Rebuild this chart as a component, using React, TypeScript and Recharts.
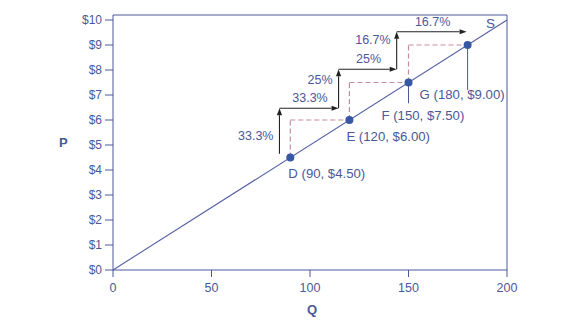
import React from 'react';
import {
  ComposedChart,
  Line,
  XAxis,
  YAxis,
  ReferenceLine,
  ReferenceDot,
} from 'recharts';

// supply curve S
const SUPPLY_Q = [0, 200];
const SUPPLY_P = [0, 10];

// labelled points on S
const POINT_NAMES = ['D', 'E', 'F', 'G'];
const POINT_Q = [90, 120, 150, 180];
const POINT_P = [4.5, 6, 7.5, 9];

// staircase of % change arrows (corners)
const ARROW_Q = [84.5, 114.5, 144, 179.5];
const ARROW_P = [4.65, 6.47, 8.03, 9.53];
const PRICE_CHANGES = ['33.3%', '25%', '16.7%'];
const QUANTITY_CHANGES = ['33.3%', '25%', '16.7%'];

// leader lines under F and G
const LEADER_Q = [150, 180];
const LEADER_FROM = [7.5, 9];
const LEADER_TO = [6.67, 7.2];

const Q_TICKS = [0, 50, 100, 150, 200];
const P_TICKS = [0, 1, 2, 3, 4, 5, 6, 7, 8, 9, 10];
const P_MAX = 10.2;

const BLUE = '#4a5899';
const DOT = '#3557a4';
const PINK = '#c98b9c';
const ARROW = '#222222';
const FONT = '"Liberation Sans", Arial, sans-serif';

// label offsets in px (layout only)
const POINT_LABEL_DX = [-2, -3, -27, -48];
const POINT_LABEL_DY = [20, 21, 37, 54];
const PRICE_LABEL_DY = [5, -9, -11];

const supplyData = SUPPLY_Q.map((q, i) => ({ q, p: SUPPLY_P[i] }));

const arrowShape = (props: any) => {
  const { x1, y1, x2, y2 } = props;
  const len = Math.hypot(x2 - x1, y2 - y1) || 1;
  const ux = (x2 - x1) / len;
  const uy = (y2 - y1) / len;
  const head = 7;
  const half = 2.6;
  const bx = x2 - ux * head;
  const by = y2 - uy * head;
  return (
    <g>
      <line x1={x1} y1={y1} x2={bx} y2={by} stroke={ARROW} strokeWidth={1.1} />
      <polygon
        points={`${x2},${y2} ${bx - uy * half},${by + ux * half} ${bx + uy * half},${by - ux * half}`}
        fill={ARROW}
      />
    </g>
  );
};

const textShape = (text: string, dx: number, dy: number, anchor: string, size: number) => (props: any) => (
  <text
    x={props.cx + dx}
    y={props.cy + dy}
    textAnchor={anchor}
    fontSize={size}
    fill={BLUE}
    fontFamily={FONT}
  >
    {text}
  </text>
);

const App = () => {
  return (
    <div style={{ position: 'absolute', left: 0, top: 0, width: 585, height: 322, background: '#fff' }}>
      <ComposedChart
        width={585}
        height={322}
        data={supplyData}
        margin={{ top: 15, right: 78, bottom: 0, left: 0 }}
        style={{ fontFamily: FONT }}
      >
        <XAxis
          dataKey="q"
          type="number"
          domain={[0, 200]}
          ticks={Q_TICKS}
          height={52}
          tickSize={7}
          tickMargin={6}
          stroke={BLUE}
          tick={{ fill: BLUE, fontSize: 12.5 }}
          label={{ value: 'Q', position: 'insideBottom', offset: 8, dx: 2, fill: BLUE, fontSize: 13, fontWeight: 'bold' }}
        />
        <YAxis
          type="number"
          domain={[0, P_MAX]}
          ticks={P_TICKS}
          width={113}
          tickSize={8}
          tickMargin={3}
          stroke={BLUE}
          tick={{ fill: BLUE, fontSize: 12 }}
          tickFormatter={(v) => `$${v}`}
          label={{ value: 'P', position: 'insideLeft', offset: 59, fill: BLUE, fontSize: 13, fontWeight: 'bold' }}
        />
        {/* frame */}
        <ReferenceLine y={P_MAX} stroke={BLUE} ifOverflow="visible" />
        <ReferenceLine x={200} stroke={BLUE} ifOverflow="visible" />

        <Line
          dataKey="p"
          stroke="#5560a5"
          strokeWidth={1.1}
          dot={false}
          isAnimationActive={false}
        />

        {/* dashed steps between points */}
        {POINT_Q.slice(0, -1).map((q, i) => (
          <ReferenceLine
            key={`dv${i}`}
            segment={[{ x: q, y: POINT_P[i] }, { x: q, y: POINT_P[i + 1] }]}
            stroke={PINK}
            strokeWidth={1.2}
            strokeDasharray="5 3"
            ifOverflow="visible"
          />
        ))}
        {POINT_Q.slice(0, -1).map((q, i) => (
          <ReferenceLine
            key={`dh${i}`}
            segment={[{ x: q, y: POINT_P[i + 1] }, { x: POINT_Q[i + 1], y: POINT_P[i + 1] }]}
            stroke={PINK}
            strokeWidth={1.2}
            strokeDasharray="5 3"
            ifOverflow="visible"
          />
        ))}

        {/* leader lines */}
        {LEADER_Q.map((q, i) => (
          <ReferenceLine
            key={`ld${i}`}
            segment={[{ x: q, y: LEADER_FROM[i] }, { x: q, y: LEADER_TO[i] }]}
            stroke={BLUE}
            strokeWidth={1}
            ifOverflow="visible"
          />
        ))}

        {/* percent change arrows */}
        {PRICE_CHANGES.map((_, i) => (
          <ReferenceLine
            key={`av${i}`}
            segment={[{ x: ARROW_Q[i], y: ARROW_P[i] }, { x: ARROW_Q[i], y: ARROW_P[i + 1] }]}
            shape={arrowShape}
            ifOverflow="visible"
          />
        ))}
        {QUANTITY_CHANGES.map((_, i) => (
          <ReferenceLine
            key={`ah${i}`}
            segment={[{ x: ARROW_Q[i], y: ARROW_P[i + 1] }, { x: ARROW_Q[i + 1], y: ARROW_P[i + 1] }]}
            shape={arrowShape}
            ifOverflow="visible"
          />
        ))}

        {/* percent labels */}
        {PRICE_CHANGES.map((t, i) => (
          <ReferenceDot
            key={`pl${i}`}
            x={ARROW_Q[i]}
            y={(ARROW_P[i] + ARROW_P[i + 1]) / 2}
            r={0}
            ifOverflow="visible"
            shape={textShape(t, -6, PRICE_LABEL_DY[i] + 4, 'end', 12.5)}
          />
        ))}
        {QUANTITY_CHANGES.map((t, i) => (
          <ReferenceDot
            key={`ql${i}`}
            x={(ARROW_Q[i] + ARROW_Q[i + 1]) / 2}
            y={ARROW_P[i + 1]}
            r={0}
            ifOverflow="visible"
            shape={textShape(t, 1, -6, 'middle', 12.5)}
          />
        ))}

        {/* points and their labels */}
        {POINT_Q.map((q, i) => (
          <ReferenceDot
            key={`pt${i}`}
            x={q}
            y={POINT_P[i]}
            r={4}
            fill={DOT}
            stroke="none"
            ifOverflow="visible"
          />
        ))}
        {POINT_Q.map((q, i) => (
          <ReferenceDot
            key={`ptl${i}`}
            x={q}
            y={POINT_P[i]}
            r={0}
            ifOverflow="visible"
            shape={textShape(
              `${POINT_NAMES[i]} (${q}, $${POINT_P[i].toFixed(2)})`,
              POINT_LABEL_DX[i],
              POINT_LABEL_DY[i],
              'start',
              13.2,
            )}
          />
        ))}
        <ReferenceDot
          x={SUPPLY_Q[1]}
          y={SUPPLY_P[1]}
          r={0}
          ifOverflow="visible"
          shape={textShape('S', -21, 8, 'start', 13.5)}
        />
      </ComposedChart>
    </div>
  );
};

export default App;
